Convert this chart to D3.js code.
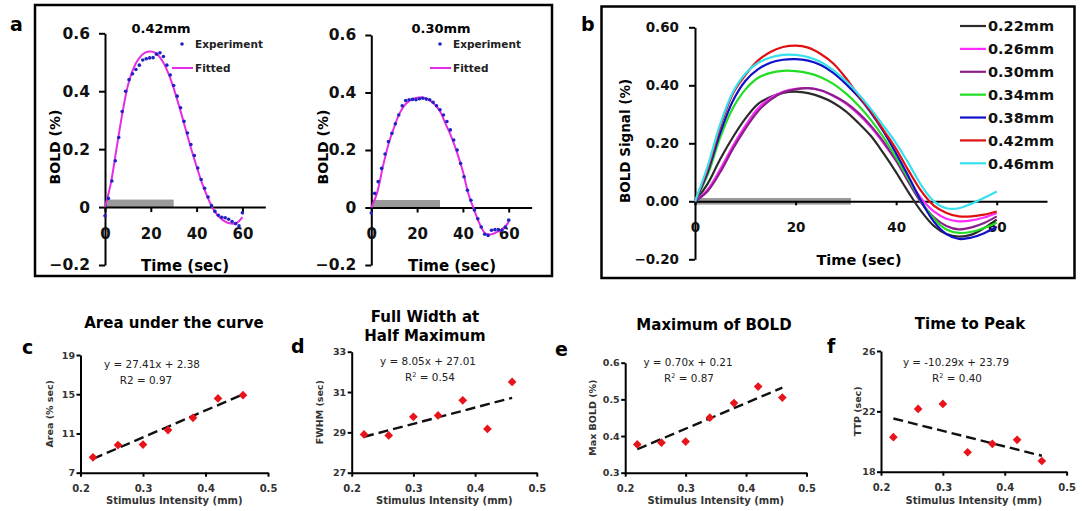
<!DOCTYPE html>
<html><head><meta charset="utf-8">
<script src="https://cdn.jsdelivr.net/npm/d3@7"></script>
<style>
body{margin:0;background:#fff}
svg{display:block}
text{font-family:"DejaVu Sans",sans-serif}
</style>
</head><body>
<svg id="fig" width="1083" height="511"></svg>
<script>
// ---------------- DATA ----------------
const expTime = [0,1.5,3,4.5,6,7.5,9,10.5,12,13.5,15,16.5,18,19.5,21,22.5,24,25.5,27,28.5,30,31.5,33,34.5,36,37.5,39,40.5,42,43.5,45,46.5,48,49.5,51,52.5,54,55.5,57,58.5,60];
const exp042 = [-0.03,0.03,0.09,0.16,0.24,0.33,0.40,0.44,0.46,0.475,0.49,0.508,0.512,0.515,0.516,0.528,0.533,0.52,0.49,0.456,0.42,0.383,0.343,0.296,0.256,0.216,0.178,0.135,0.095,0.065,0.035,0.005,-0.015,-0.028,-0.035,-0.037,-0.042,-0.05,-0.057,-0.065,-0.02];
const exp030 = [-0.019,0.049,0.09,0.136,0.186,0.229,0.258,0.291,0.322,0.354,0.372,0.375,0.376,0.375,0.378,0.38,0.377,0.375,0.366,0.354,0.340,0.322,0.299,0.270,0.235,0.2,0.153,0.107,0.06,0.025,-0.009,-0.039,-0.068,-0.093,-0.097,-0.079,-0.077,-0.077,-0.079,-0.068,-0.044];
const fitTime = [0,2.5,5,7.5,10,12.5,15,17.5,20,22.5,25,27.5,30,32.5,35,37.5,40,42.5,45,47.5,50,52.5,55,57.5,60];
const fit042 = [0,0.08,0.2,0.32,0.42,0.48,0.515,0.533,0.537,0.53,0.505,0.465,0.41,0.345,0.275,0.205,0.14,0.08,0.03,-0.01,-0.035,-0.05,-0.057,-0.055,-0.035];
const fit030 = [0,0.05,0.14,0.22,0.28,0.33,0.36,0.375,0.382,0.383,0.375,0.36,0.335,0.29,0.245,0.19,0.125,0.045,-0.01,-0.06,-0.092,-0.093,-0.085,-0.075,-0.05];
const stimA = 30, stimB = 31;

const bTime = [0,2.5,5,7.5,10,12.5,15,17.5,20,22.5,25,27.5,30,32.5,35,37.5,40,42.5,45,47.5,50,52.5,55,57.5,60];
const b022 = [0,0.06,0.145,0.22,0.285,0.335,0.36,0.374,0.378,0.373,0.36,0.34,0.31,0.27,0.225,0.165,0.1,0.03,-0.035,-0.085,-0.113,-0.122,-0.115,-0.092,-0.063];
const b026 = [0,0.04,0.11,0.19,0.26,0.32,0.356,0.378,0.388,0.39,0.382,0.363,0.337,0.3,0.255,0.2,0.14,0.075,0.01,-0.035,-0.06,-0.069,-0.066,-0.056,-0.04];
const b030 = [0,0.035,0.1,0.18,0.25,0.31,0.35,0.375,0.386,0.39,0.383,0.365,0.34,0.305,0.26,0.205,0.14,0.065,-0.005,-0.055,-0.085,-0.097,-0.09,-0.075,-0.052];
const b034 = [0,0.09,0.22,0.32,0.385,0.425,0.443,0.45,0.449,0.442,0.428,0.405,0.372,0.33,0.28,0.22,0.15,0.075,0.0,-0.06,-0.097,-0.109,-0.105,-0.092,-0.074];
const b038 = [0,0.1,0.235,0.345,0.415,0.455,0.478,0.488,0.49,0.485,0.47,0.443,0.405,0.36,0.305,0.24,0.165,0.085,0.0,-0.07,-0.113,-0.13,-0.125,-0.11,-0.088];
const b042 = [0,0.11,0.255,0.37,0.435,0.485,0.515,0.532,0.537,0.53,0.508,0.475,0.425,0.365,0.31,0.245,0.18,0.105,0.035,-0.015,-0.04,-0.052,-0.052,-0.046,-0.035];
const b046 = [0,0.12,0.265,0.375,0.44,0.477,0.496,0.505,0.505,0.497,0.48,0.452,0.415,0.37,0.318,0.26,0.2,0.13,0.055,0.0,-0.024,-0.024,-0.008,0.012,0.034];
const bLabels = ["0.22mm","0.26mm","0.30mm","0.34mm","0.38mm","0.42mm","0.46mm"];
const bColors = ["#2b2b2b","#ff2bff","#8a1f8a","#22dd22","#1010c8","#e01010","#36e0ee"];

const intensity = [0.22,0.26,0.30,0.34,0.38,0.42,0.46];
const area = [8.57,9.82,9.87,11.35,12.6,14.57,14.9];
const fwhm = [28.9,28.85,29.77,29.84,30.59,29.17,31.5];
const maxBold = [0.377,0.382,0.385,0.45,0.49,0.535,0.505];
const ttp = [20.29,22.16,22.49,19.29,19.85,20.11,18.71];
const trendSlope = [27.41,8.05,0.70,-10.29];
const trendIntercept = [2.38,27.01,0.21,23.79];

const timeTicks = [0,20,40,60];
const aYTicks = [-0.2,0,0.2,0.4,0.6];
const xTicksScatter = [0.2,0.3,0.4,0.5];

// ---------------- DRAW ----------------
const svg = d3.select("#fig");
const F = '"DejaVu Sans",sans-serif';

function styleAxis(g, sw, fs, weight, color){
  g.selectAll("path,line").attr("stroke","#000").attr("stroke-width",sw);
  g.selectAll("text").attr("font-family",F).attr("font-size",fs).attr("font-weight",weight).attr("fill",color);
}

// frames
svg.append("rect").attr("x",35).attr("y",5).attr("width",517).attr("height",271)
  .attr("fill","none").attr("stroke","#000").attr("stroke-width",2.5);
svg.append("rect").attr("x",601.5).attr("y",6.5).attr("width",473).attr("height",271.5)
  .attr("fill","none").attr("stroke","#000").attr("stroke-width",2.5);

// panel letters
[["a",10,31],["b",581,31],["c",22,354],["d",291,353],["e",555,356],["f",827,353]].forEach(([t,x,y])=>{
  svg.append("text").attr("x",x).attr("y",y).text(t).attr("font-size",19).attr("font-weight","bold").attr("font-family",F);
});

// ---- panel a subpanels ----
function panelA(cfg){
  const x = d3.scaleLinear().domain([0,70]).range([cfg.x0, cfg.x0+160.3]);
  const y = d3.scaleLinear().domain([-0.2,0.6]).range([265, cfg.yTop]);
  svg.append("rect").attr("x",x(0)).attr("width",x(stimA)-x(0))
    .attr("y",y(0)-7.5).attr("height",7.5).attr("fill","#9a9a9a");
  const gy = svg.append("g").attr("transform",`translate(${x(0)},0)`)
    .call(d3.axisLeft(y).tickValues(aYTicks).tickFormat(d=>d===0?"0":d3.format(".1f")(d)).tickSize(6).tickPadding(9).tickSizeOuter(0));
  styleAxis(gy,2,15.5,"bold","#111");
  const gx = svg.append("g").attr("transform",`translate(0,${y(0)})`)
    .call(d3.axisBottom(x).tickValues(timeTicks).tickFormat(d3.format("d")).tickSize(5).tickPadding(16).tickSizeOuter(0));
  styleAxis(gx,2,15,"bold","#111");
  const line = d3.line().x((d,i)=>x(fitTime[i])).y(d=>y(d)).curve(d3.curveCatmullRom.alpha(0.5));
  svg.append("path").attr("d",line(cfg.fit)).attr("fill","none").attr("stroke","#e62ce6").attr("stroke-width",2);
  svg.append("g").selectAll("circle").data(cfg.exp).join("circle")
    .attr("cx",(d,i)=>x(expTime[i])).attr("cy",d=>y(d)).attr("r",1.8).attr("fill","#2222c4");
  svg.append("text").attr("x",cfg.titleX).attr("y",33).attr("text-anchor","middle")
    .attr("font-size",13).attr("font-weight","bold").text(cfg.title);
  svg.append("circle").attr("cx",cfg.legX-13).attr("cy",44).attr("r",1.8).attr("fill","#2222c4");
  svg.append("text").attr("x",cfg.legX).attr("y",48).attr("font-size",10.5).attr("font-weight","bold").attr("fill","#222").text("Experiment");
  svg.append("line").attr("x1",cfg.legX-23).attr("x2",cfg.legX-2).attr("y1",68).attr("y2",68).attr("stroke","#e62ce6").attr("stroke-width",2);
  svg.append("text").attr("x",cfg.legX).attr("y",72).attr("font-size",10.5).attr("font-weight","bold").attr("fill","#222").text("Fitted");
  svg.append("text").attr("transform",`translate(${cfg.ylabX},147) rotate(-90)`).attr("text-anchor","middle")
    .attr("dy","0.35em").attr("font-size",14).attr("font-weight","bold").text("BOLD (%)");
  svg.append("text").attr("x",cfg.xlabX).attr("y",271).attr("text-anchor","middle")
    .attr("font-size",15).attr("font-weight","bold").text("Time (sec)");
}
panelA({x0:105, yTop:33.3, fit:fit042, exp:exp042, title:"0.42mm", titleX:161, legX:195, ylabX:55, xlabX:185});
panelA({x0:371.3, yTop:35, fit:fit030, exp:exp030, title:"0.30mm", titleX:441, legX:453, ylabX:323, xlabX:452});

// ---- panel b ----
(function(){
  const x = d3.scaleLinear().domain([0,70]).range([695,1047]);
  const y = d3.scaleLinear().domain([-0.2,0.6]).range([259.3,27.3]);
  svg.append("rect").attr("x",x(0)).attr("width",x(stimB)-x(0)).attr("y",y(0)-3.3).attr("height",6.6).attr("fill","#9a9a9a");
  const gy = svg.append("g").attr("transform",`translate(${x(0)},0)`)
    .call(d3.axisLeft(y).tickValues(aYTicks).tickFormat(d3.format(".2f")).tickSize(6).tickPadding(10).tickSizeOuter(0));
  styleAxis(gy,2,13.5,"bold","#111");
  const gx = svg.append("g").attr("transform",`translate(0,${y(0)})`)
    .call(d3.axisBottom(x).tickValues(timeTicks).tickFormat(d3.format("d")).tickSize(4).tickPadding(17).tickSizeOuter(0));
  styleAxis(gx,2,13.5,"bold","#111");
  const series = [b022,b026,b030,b034,b038,b042,b046];
  const line = d3.line().x((d,i)=>x(bTime[i])).y(d=>y(d)).curve(d3.curveCatmullRom.alpha(0.5));
  series.forEach((s,k)=>{
    svg.append("path").attr("d",line(s)).attr("fill","none").attr("stroke",bColors[k]).attr("stroke-width",2.2);
  });
  const legY = d3.scaleLinear().domain([0,6]).range([26,163.3]);
  bLabels.forEach((lab,k)=>{
    svg.append("line").attr("x1",960).attr("x2",986).attr("y1",legY(k)).attr("y2",legY(k)).attr("stroke",bColors[k]).attr("stroke-width",2.2);
    svg.append("text").attr("x",988).attr("y",legY(k)).attr("dy","0.36em").attr("font-size",14.5).attr("font-weight","bold").attr("fill","#111").text(lab);
  });
  svg.append("text").attr("transform","translate(625,141) rotate(-90)").attr("text-anchor","middle")
    .attr("dy","0.35em").attr("font-size",13.5).attr("font-weight","bold").text("BOLD Signal (%)");
  svg.append("text").attr("x",859).attr("y",265).attr("text-anchor","middle")
    .attr("font-size",14.5).attr("font-weight","bold").text("Time (sec)");
})();

// ---- scatter panels ----
function scatter(cfg, k){
  const x = d3.scaleLinear().domain([0.2,0.5]).range(cfg.xr);
  const y = d3.scaleLinear().domain(cfg.yd).range(cfg.yr);
  const gy = svg.append("g").attr("transform",`translate(${cfg.xr[0]},0)`)
    .call(d3.axisLeft(y).tickValues(cfg.yticks).tickFormat(cfg.yfmt).tickSize(4).tickPadding(1.5).tickSizeOuter(0));
  styleAxis(gy,2,9.5,"bold","#333");
  const gx = svg.append("g").attr("transform",`translate(0,${cfg.yr[0]})`)
    .call(d3.axisBottom(x).tickValues(xTicksScatter).tickFormat(d3.format(".1f")).tickSize(4).tickPadding(8).tickSizeOuter(0));
  styleAxis(gx,2,10,"bold","#333");
  const ends = [intensity[0], intensity[intensity.length-1]];
  svg.append("line").attr("x1",x(ends[0])).attr("x2",x(ends[1]))
    .attr("y1",y(trendSlope[k]*ends[0]+trendIntercept[k])).attr("y2",y(trendSlope[k]*ends[1]+trendIntercept[k]))
    .attr("stroke","#111").attr("stroke-width",2.4).attr("stroke-dasharray","10,5");
  svg.append("g").selectAll("path").data(cfg.vals).join("path")
    .attr("d",d3.symbol(d3.symbolSquare,38)())
    .attr("transform",(d,i)=>`translate(${x(intensity[i])},${y(d)}) rotate(45)`)
    .attr("fill","#e8141b");
  cfg.title.forEach((t,i)=>{
    svg.append("text").attr("x",cfg.titleX).attr("y",cfg.titleY+i*18.5).attr("text-anchor","middle")
      .attr("font-size",15).attr("font-weight","bold").text(t);
  });
  svg.append("text").attr("x",cfg.eqX).attr("y",cfg.eqY).attr("text-anchor","middle").attr("font-size",10.4).attr("fill","#222").text(cfg.eq);
  const r = svg.append("text").attr("x",cfg.eqX+cfg.rdx).attr("y",cfg.eqY+15.5).attr("text-anchor","middle").attr("font-size",10.4).attr("fill","#222");
  if(cfg.sup){ r.append("tspan").text("R"); r.append("tspan").attr("font-size",6.5).attr("dy",-4).text("2"); r.append("tspan").attr("dy",4).text(" = "+cfg.r2); }
  else r.text("R2 = "+cfg.r2);
  svg.append("text").attr("transform",`translate(${cfg.ylabX},${(cfg.yr[0]+cfg.yr[1])/2}) rotate(-90)`).attr("text-anchor","middle")
    .attr("dy","0.35em").attr("font-size",9.5).attr("font-weight","bold").attr("fill","#333").text(cfg.ylab);
  svg.append("text").attr("x",(cfg.xr[0]+cfg.xr[1])/2).attr("y",504).attr("text-anchor","middle")
    .attr("font-size",10).attr("font-weight","bold").attr("fill","#333").text("Stimulus Intensity (mm)");
}
scatter({xr:[80.5,268], yd:[7,19], yr:[472.7,355], yticks:[7,11,15,19], yfmt:d3.format("d"), vals:area,
  title:["Area under the curve"], titleX:174, titleY:328, eq:"y = 27.41x + 2.38", eqX:152, eqY:368, rdx:-6, r2:"0.97", sup:false,
  ylab:"Area (% sec)", ylabX:50}, 0);
scatter({xr:[351.7,536.8], yd:[27,33], yr:[472.7,351.7], yticks:[27,29,31,33], yfmt:d3.format("d"), vals:fwhm,
  title:["Full Width at","Half Maximum"], titleX:425, titleY:322, eq:"y = 8.05x + 27.01", eqX:428, eqY:365, rdx:2, r2:"0.54", sup:true,
  ylab:"FWHM (sec)", ylabX:320}, 1);
scatter({xr:[625.2,806.5], yd:[0.3,0.6], yr:[472.7,362.7], yticks:[0.3,0.4,0.5,0.6], yfmt:d3.format(".1f"), vals:maxBold,
  title:["Maximum of BOLD"], titleX:714, titleY:330, eq:"y = 0.70x + 0.21", eqX:688, eqY:366, rdx:1, r2:"0.87", sup:true,
  ylab:"Max BOLD (%)", ylabX:593}, 2);
scatter({xr:[881,1066.6], yd:[18,26], yr:[471.7,351], yticks:[18,22,26], yfmt:d3.format("d"), vals:ttp,
  title:["Time to Peak"], titleX:970, titleY:329, eq:"y = -10.29x + 23.79", eqX:956, eqY:366, rdx:1, r2:"0.40", sup:true,
  ylab:"TTP (sec)", ylabX:858}, 3);
</script>
</body></html>
